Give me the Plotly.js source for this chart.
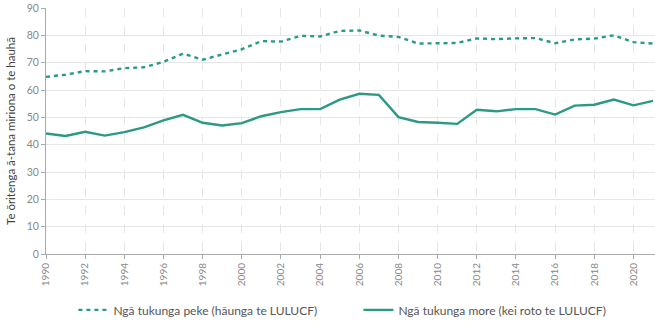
<!DOCTYPE html>
<html>
<head>
<meta charset="utf-8">
<script src="https://cdn.plot.ly/plotly-3.0.1.min.js"></script>
<style>html,body{margin:0;padding:0;background:#fff;}#chart{width:655px;height:336px;}</style>
</head>
<body>
<div id="chart"></div>
<script>
const years = [1990,1991,1992,1993,1994,1995,1996,1997,1998,1999,2000,2001,2002,2003,2004,2005,2006,2007,2008,2009,2010,2011,2012,2013,2014,2015,2016,2017,2018,2019,2020,2021];
const grossEmissions = [64.8,65.6,66.9,66.8,68.0,68.3,70.3,73.3,71.1,72.9,74.9,77.9,77.7,79.8,79.6,81.6,81.8,79.9,79.4,77.0,77.2,77.2,78.9,78.6,78.9,79.0,77.1,78.5,78.8,80.0,77.5,77.0];
const netEmissions = [44.1,43.2,44.7,43.3,44.6,46.3,48.9,50.9,48.0,47.0,47.9,50.4,51.9,53.0,53.0,56.5,58.6,58.2,50.1,48.3,48.0,47.6,52.8,52.2,53.0,53.0,51.0,54.3,54.6,56.5,54.4,56.0];
const grossName = "Ngā tukunga peke (hāunga te LULUCF)";
const netName = "Ngā tukunga more (kei roto te LULUCF)";
const yTitle = "Te ōritenga ā-tana miriona o te hauhā";
const xTickVals = [1990,1992,1994,1996,1998,2000,2002,2004,2006,2008,2010,2012,2014,2016,2018,2020];
const yTickVals = [0,10,20,30,40,50,60,70,80,90];

const teal = "#2a9a84";
const traces = [
  {x: years, y: grossEmissions, name: grossName, type: "scatter", mode: "lines",
   line: {color: teal, width: 2.4, dash: "4px,4px"}},
  {x: years, y: netEmissions, name: netName, type: "scatter", mode: "lines",
   line: {color: teal, width: 2.4}}
];
const layout = {
  width: 655, height: 336,
  margin: {l: 46, r: 0, t: 8, b: 82},
  paper_bgcolor: "#fff", plot_bgcolor: "#fff",
  font: {family: "Lato, 'Open Sans', sans-serif", size: 10, color: "#888"},
  showlegend: true,
  legend: {orientation: "h", x: 0.045, xanchor: "left", y: -0.168, yanchor: "top",
           font: {size: 12, color: "#555"}, itemwidth: 30, entrywidth: 240},
  xaxis: {range: [1990, 2021.1], tickvals: xTickVals, ticktext: xTickVals.map(String),
          tickangle: -90, showgrid: true, gridcolor: "#e6e6e6", griddash: "dash", gridwidth: 1,
          showline: true, linecolor: "#aaa", linewidth: 1, ticks: "outside", ticklen: 4, tickcolor: "#aaa",
          zeroline: false, tickfont: {size: 10, color: "#888"}, fixedrange: true},
  yaxis: {range: [0, 90], tickvals: yTickVals, showgrid: true, gridcolor: "#e6e6e6", gridwidth: 1,
          showline: true, linecolor: "#aaa", linewidth: 1, ticks: "outside", ticklen: 4, tickcolor: "#aaa",
          zeroline: false, tickfont: {size: 10.5, color: "#888"},
          title: {text: yTitle, font: {size: 11.5, color: "#444"}, standoff: 8}}
};
Plotly.newPlot("chart", traces, layout, {displayModeBar: false, staticPlot: true});
</script>
</body>
</html>
